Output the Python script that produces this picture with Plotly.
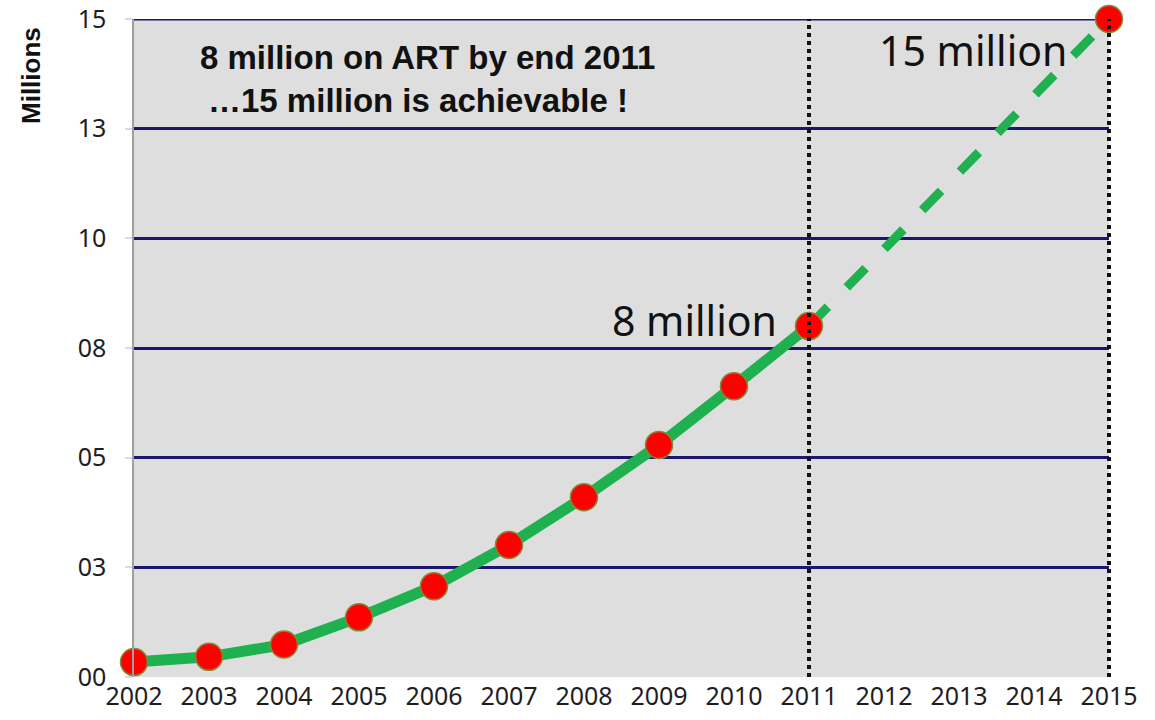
import plotly.graph_objects as go

# People on antiretroviral therapy (millions)
years_actual = [2002, 2003, 2004, 2005, 2006, 2007, 2008, 2009, 2010, 2011]
on_art = [0.34, 0.46, 0.74, 1.36, 2.07, 3.01, 4.10, 5.29, 6.63, 8.0]

# Projection from end 2011 to the 2015 target
years_target = [2011, 2015]
target = [8.0, 15.0]

# Years flagged with dotted vertical lines
flag_years = [2011, 2015]

y_ticks = [0, 2.5, 5, 7.5, 10, 12.5, 15]
y_tick_labels = ["00", "03", "05", "08", "10", "13", "15"]
x_ticks = list(range(2002, 2016))
x_tick_labels = [str(y) for y in x_ticks]

GREEN = "#1fb04f"
NAVY = "#1b1670"
TICK_FONT = dict(family="Noto Sans, DejaVu Sans, sans-serif", size=25, color="#1e1e1e")
BIG_FONT = dict(family="Noto Sans, DejaVu Sans, sans-serif", size=41, color="#111111")
BOLD = dict(family="Liberation Sans, Arial, sans-serif", size=33, color="#111111")

W, H = 1155, 720
M_L, M_R, M_T, M_B = 134, 46, 19, 43
X_RANGE = [2002, 2015]


def paper_y(px):
    """Convert a pixel row (from the top of the page) to paper y."""
    return 1 - (px - M_T) / (H - M_T - M_B)


def paper_x(px):
    return (px - M_L) / (W - M_L - M_R)


fig = go.Figure()

# dashed projection line
fig.add_trace(go.Scatter(
    x=years_target, y=target, mode="lines",
    line=dict(color=GREEN, width=9, dash="dash"),
    cliponaxis=False, hoverinfo="skip", showlegend=False,
))
# actual line
fig.add_trace(go.Scatter(
    x=years_actual, y=on_art, mode="lines",
    line=dict(color=GREEN, width=11),
    cliponaxis=False, showlegend=False,
))
# markers
fig.add_trace(go.Scatter(
    x=years_actual + [years_target[-1]], y=on_art + [target[-1]], mode="markers",
    marker=dict(color="#ff0000", size=27, line=dict(color="#7f8a3a", width=1.5)),
    cliponaxis=False, showlegend=False,
))

# top gridline at 15
fig.add_shape(type="line", xref="x", yref="y", x0=X_RANGE[0], x1=X_RANGE[1], y0=15, y1=15,
              line=dict(color=NAVY, width=3), layer="below")

# dotted vertical markers (paper x so the edge line isn't clipped)
for xv in flag_years:
    xp = (xv - X_RANGE[0]) / (X_RANGE[1] - X_RANGE[0])
    fig.add_shape(type="line", xref="paper", yref="paper", x0=xp, x1=xp, y0=0, y1=1,
                  line=dict(color="#111111", width=4, dash="4px,4px"), layer="above")

fig.add_annotation(x=2011, y=8.0, xref="x", yref="y", text="8 million",
                   showarrow=False, xanchor="right", yanchor="middle",
                   xshift=-30, yshift=6, font=BIG_FONT)
fig.add_annotation(x=2015, y=15, xref="x", yref="y", text="15 million",
                   showarrow=False, xanchor="right", yanchor="middle",
                   xshift=-40, yshift=-31, font=BIG_FONT)

fig.add_annotation(x=paper_x(427), y=paper_y(57), xref="paper", yref="paper",
                   text="<b>8 million on ART by end 2011</b>",
                   showarrow=False, xanchor="center", yanchor="middle", font=BOLD)
fig.add_annotation(x=paper_x(418), y=paper_y(100), xref="paper", yref="paper",
                   text="<b>…15 million is achievable !</b>",
                   showarrow=False, xanchor="center", yanchor="middle", font=BOLD)

# axis title
fig.add_annotation(x=paper_x(31), y=paper_y(76), xref="paper", yref="paper",
                   text="<b>Millions</b>", textangle=-90,
                   showarrow=False, xanchor="center", yanchor="middle",
                   font=dict(family="Liberation Sans, Arial, sans-serif", size=26, color="#111111"))

fig.update_layout(
    width=W, height=H,
    margin=dict(l=M_L, r=M_R, t=M_T, b=M_B, autoexpand=False),
    paper_bgcolor="white",
    plot_bgcolor="#dedede",
    xaxis=dict(
        range=X_RANGE, tickmode="array", tickvals=x_ticks, ticktext=x_tick_labels,
        showgrid=False, zeroline=False, showline=False, ticks="",
        tickfont=TICK_FONT, ticklabelstandoff=2, automargin=False,
    ),
    yaxis=dict(
        range=[0, 15], tickmode="array", tickvals=y_ticks, ticktext=y_tick_labels,
        showgrid=True, gridcolor=NAVY, gridwidth=3, zeroline=False,
        showline=True, linecolor="#a0a0a0", linewidth=1.5,
        ticks="outside", ticklen=7, tickcolor="#d8d8f0", tickwidth=2,
        tickfont=TICK_FONT, ticklabelstandoff=14, automargin=False,
    ),
)

fig.write_html("out.html")
